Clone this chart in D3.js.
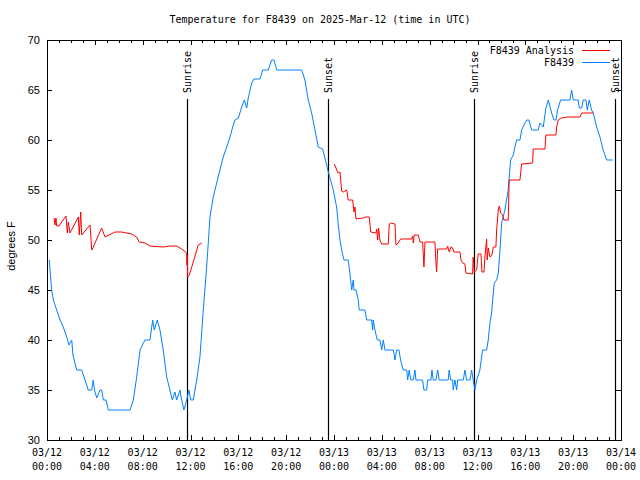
<!DOCTYPE html>
<html><head><meta charset="utf-8">
<script src="https://cdn.jsdelivr.net/npm/d3@7"></script>
<style>
body{margin:0;background:#fff;}
svg{display:block;}
.mono{font-family:"DejaVu Sans Mono","Liberation Mono",monospace;font-size:10px;fill:#000;}
.sans{font-family:"Liberation Sans",Arial,sans-serif;font-size:11px;fill:#000;}
</style>
</head><body>
<svg id="chart" width="640" height="480"></svg>
<script>
const titleText = "Temperature for F8439 on 2025-Mar-12 (time in UTC)";
const yLabel = "degrees F";
const seriesNames = ["F8439 Analysis", "F8439"];
const seriesColors = ["#ff0000", "#0080ff"];
const yTicks = [30, 35, 40, 45, 50, 55, 60, 65, 70];
const startDate = Date.UTC(2025, 2, 12, 0, 0);
const spanHours = 48;

// Sun events (hours after 03/12 00:00 UTC)
const sunHours = [11.71, 23.47, 35.73, 47.49];
const sunLabels = ["Sunrise", "Sunset", "Sunrise", "Sunset"];

// Observed station F8439 (hours after start, deg F)
const obsHours = [0.19,0.39,0.53,0.81,1.09,1.36,1.65,1.84,2.07,2.17,2.48,2.90,3.32,3.45,3.74,3.87,3.97,4.16,4.43,4.57,4.71,4.93,5.13,6.94,7.22,7.50,7.78,8.19,8.61,8.84,8.97,9.22,9.45,9.72,10.01,10.28,10.48,10.70,10.84,11.12,11.26,11.45,11.68,11.87,12.02,12.23,12.52,12.79,13.07,13.35,13.63,13.90,14.19,14.46,14.74,15.03,15.30,15.58,15.72,16.00,16.28,16.50,16.70,16.83,17.12,17.31,17.81,18.04,18.50,18.79,18.98,19.21,21.30,21.57,21.85,22.13,22.41,22.68,23.05,23.24,23.44,23.66,23.94,24.22,24.36,24.50,24.64,24.83,25.19,25.33,25.48,25.61,25.67,25.84,26.03,26.11,26.59,26.73,27.15,27.23,27.28,27.42,27.62,27.84,27.99,28.12,28.26,28.96,29.10,29.24,29.43,29.57,29.79,30.08,30.16,30.29,30.43,30.63,30.77,30.85,31.41,31.52,31.75,31.83,32.11,32.19,32.30,32.53,32.67,32.80,33.55,33.63,33.75,33.92,33.97,34.11,34.26,34.34,34.81,34.95,35.09,35.37,35.51,35.64,35.79,35.93,36.20,36.34,36.43,36.76,36.90,37.04,37.18,37.27,37.40,37.60,37.74,37.88,38.02,38.15,38.29,38.43,38.57,38.65,38.77,38.99,39.13,39.27,39.55,39.69,39.97,40.11,40.30,40.53,40.89,41.08,41.22,41.50,41.72,41.92,42.20,42.39,42.56,42.70,42.95,43.73,43.87,44.01,44.42,44.51,44.71,44.84,45.07,45.18,45.34,45.54,45.68,45.96,46.24,46.51,46.80,47.30];
const obsTemps = [48,45,44,43,42,41.3,40.3,39.5,40,38.5,37,37,35.5,35,35,36,35,34.2,35,35,34,34,33,33,34,36.3,39,40,40,42,41,42,41,39,36.3,35,34,34.8,34,35,34,33,34,35,34,34,36,38.3,43,47.3,52.3,54.3,55.7,57,58.3,59.3,60.3,61.5,62,62.2,63.3,64,63.2,64.2,65.7,66.1,66.1,67,67,68,68,67,67,66,64,62.7,61,59.3,59.1,58.2,57.2,56.2,55,53.3,51.5,50,49,48,48,46.7,45,46,45,45,44,43,43,42,42,41,42,41,40,40,39,40,39,39,38,39,39,38,37,37,36,37,36,36,37,36,36,35,35,36,36,37,36,36,37,36,36,37,36,36,35,36,35,36,36,37,36,36,37,36,35,36,37,38.3,39,39,40,41.7,42.7,44,45.7,46,46.7,49,51.7,52.3,53,54,55,56.3,58,58.5,59.3,60,60,61,61.7,62,62,61,61,61,61.7,61.3,63.2,64,62.7,62,62,63,64,64,65,64,64,63.2,63.2,64,64,63,64,63,62.7,61.3,60.3,59,58,58];

// Analysis F8439 (null = gap)
const anaHours = [0.59,0.67,0.75,0.81,1.00,1.59,1.70,1.78,1.92,2.62,2.70,2.82,2.90,3.60,3.74,3.87,4.57,4.85,5.69,6.25,6.66,7.08,7.50,7.72,8.19,8.61,9.72,10.28,10.84,11.26,11.68,11.71,11.73,11.75,11.76,11.90,12.23,12.65,12.94,18.0,24.02,24.14,24.22,24.36,24.50,24.56,24.64,24.77,24.92,25.06,25.19,25.56,25.67,25.75,25.84,26.45,26.59,26.95,27.07,27.51,27.57,27.65,27.73,27.84,27.98,28.54,28.62,28.76,29.10,29.18,29.37,29.57,30.49,30.58,30.63,30.71,31.05,31.19,31.41,31.52,31.61,32.44,32.50,32.58,32.67,33.42,33.50,33.64,33.78,33.92,34.03,34.53,34.62,34.76,34.95,35.03,35.59,35.64,35.73,35.93,36.06,36.29,36.37,36.54,36.62,36.76,36.81,36.90,37.04,37.21,37.32,37.54,37.60,37.74,37.82,37.94,38.10,38.21,38.57,38.65,39.55,39.69,40.61,40.66,41.64,41.72,42.56,42.62,42.75,43.03,43.50,44.57,44.71,45.68];
const anaTemps = [52.2,51.5,52.2,51.4,51.4,52.4,50.7,51.8,50.7,52.3,50.5,52.8,50.5,51.5,49,49.3,51.2,50.3,50.8,50.8,50.7,50.6,50.3,49.8,49.7,49.4,49.3,49.4,49.4,49.1,48.7,47.5,48.5,47.3,46.3,46.5,47.8,49.5,49.7,null,57.6,57.3,57,56.7,56.8,56,54.9,54.8,54.9,55,54,54,52.8,53.3,52.1,52.2,52.3,52.3,50.8,50.7,51.1,50,51.2,50,49.6,49.6,51.6,51.7,51.6,49.5,49.7,50.1,50.1,50.4,49.7,50.5,50.5,49.8,49.8,47.3,49.8,49.8,48.3,46.8,49.1,49.1,49.4,48.8,49.3,49.2,48.8,48.8,48,47.7,47.6,46.7,46.6,48.3,46.8,47,48.6,48.6,46.8,46.8,48.3,50.1,48,49.2,48.3,48.5,49.3,49.3,51,53,53.4,52.7,52.5,52,52,56,56,57.6,57.7,59.1,59.1,60.5,60.5,61.3,62,62.2,62.3,62.3,62.7,62.7];

const svg = d3.select("#chart");
const L = 47, R = 621, T = 40, B = 440;
const toDate = h => new Date(startDate + h * 3600e3);
const x = d3.scaleUtc().domain([toDate(0), toDate(spanHours)]).range([L, R]);
const y = d3.scaleLinear().domain([30, 70]).range([B, T]);

// Title
svg.append("text").attr("class", "mono").attr("x", 320).attr("y", 23)
  .attr("text-anchor", "middle").text(titleText);

// y label
svg.append("text").attr("class", "sans").attr("transform", "translate(15,246) rotate(-90)")
  .attr("text-anchor", "middle").text(yLabel);

const majorT = d3.utcHour.every(4).range(toDate(0), toDate(spanHours + 0.01));
const minorT = d3.utcHour.every(1).range(toDate(0), toDate(spanHours + 0.01));

const g = svg.append("g").attr("shape-rendering", "crispEdges");
function axisG(axis, tr) {
  const a = g.append("g").attr("transform", tr).call(axis);
  a.select(".domain").remove();
  a.selectAll("line").attr("stroke", "#000");
  return a;
}
axisG(d3.axisBottom(x).tickValues(minorT).tickSize(-3).tickFormat(""), `translate(0,${B})`);
axisG(d3.axisBottom(x).tickValues(majorT).tickSize(-5).tickFormat(""), `translate(0,${B})`);
axisG(d3.axisTop(x).tickValues(minorT).tickSize(-3).tickFormat(""), `translate(0,${T})`);
axisG(d3.axisTop(x).tickValues(majorT).tickSize(-5).tickFormat(""), `translate(0,${T})`);
axisG(d3.axisLeft(y).tickValues(yTicks).tickSize(-5).tickFormat(""), `translate(${L},0)`);
axisG(d3.axisRight(y).tickValues(yTicks).tickSize(-5).tickFormat(""), `translate(${R},0)`);

// x tick labels
const fmtD = d3.utcFormat("%m/%d"), fmtH = d3.utcFormat("%H:%M");
const xl = svg.append("g");
majorT.forEach(d => {
  const t = xl.append("text").attr("class", "mono").attr("text-anchor", "middle");
  t.append("tspan").attr("x", x(d)).attr("y", 456).text(fmtD(d));
  t.append("tspan").attr("x", x(d)).attr("y", 470).text(fmtH(d));
});
// y tick labels
yTicks.forEach(v => {
  svg.append("text").attr("class", "sans").attr("x", 40).attr("y", y(v) + 4)
    .attr("text-anchor", "end").text(v);
});

// Sunrise / sunset lines
sunHours.forEach((h, i) => {
  const xp = Math.round(x(toDate(h))) + 0.5;
  svg.append("line").attr("x1", xp).attr("x2", xp).attr("y1", 99).attr("y2", B)
    .attr("stroke", "#000").attr("stroke-width", 1.2);
  svg.append("text").attr("class", "mono").attr("text-anchor", "start")
    .attr("transform", `translate(${xp + 3.5},93) rotate(-90)`).text(sunLabels[i]);
});

// Data lines
const line = d3.line().defined(d => d[1] !== null)
  .x(d => x(toDate(d[0]))).y(d => y(d[1]));
svg.append("path").datum(obsHours.map((h, i) => [h, obsTemps[i]]))
  .attr("d", line).attr("fill", "none").attr("stroke", seriesColors[1]).attr("stroke-width", 1);
svg.append("path").datum(anaHours.map((h, i) => [h, anaTemps[i]]))
  .attr("d", line).attr("fill", "none").attr("stroke", seriesColors[0]).attr("stroke-width", 1);

// Frame
svg.append("rect").attr("x", L + 0.5).attr("y", T + 0.5).attr("width", R - L).attr("height", B - T)
  .attr("fill", "none").attr("stroke", "#000").attr("shape-rendering", "crispEdges");

// Legend
seriesNames.forEach((n, i) => {
  const ly = 50 + i * 12;
  svg.append("text").attr("class", "mono").attr("x", 574).attr("y", ly + 4)
    .attr("text-anchor", "end").text(n);
  svg.append("line").attr("x1", 582).attr("x2", 610).attr("y1", ly + 0.5).attr("y2", ly + 0.5)
    .attr("stroke", seriesColors[i]).attr("stroke-width", 1);
});
</script>
</body></html>
